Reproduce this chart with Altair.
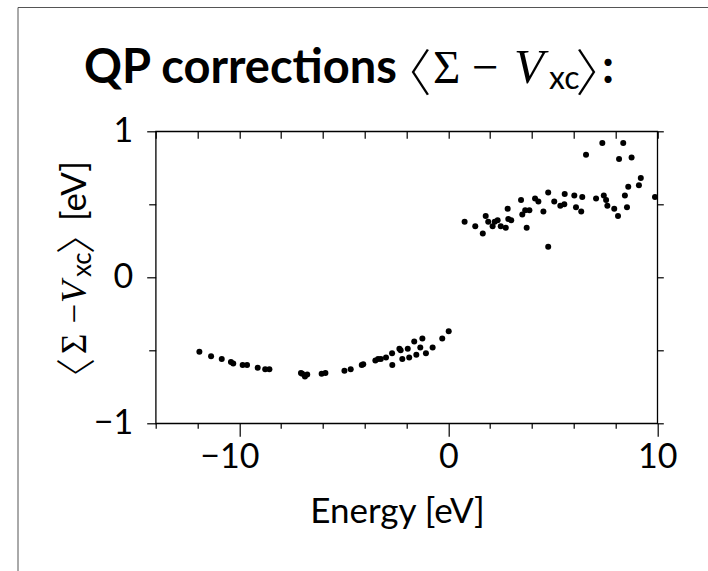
import altair as alt
import pandas as pd

# ---- data ----
energy = [
    -11.91, -11.35, -10.84, -10.40, -10.29, -9.84, -9.63, -9.12, -8.76, -8.56,
    -7.05, -6.99, -6.86, -6.75, -6.06, -5.88, -4.97, -4.67, -4.14, -4.07,
    -3.49, -3.36, -3.23, -2.98, -2.69, -2.68, -2.34, -2.28, -2.20, -1.94,
    -1.87, -1.63, -1.53, -1.34, -1.24, -1.07, -0.75, -0.29, 0.02,
    0.78, 1.29, 1.65, 1.79, 1.91, 2.12, 2.22, 2.36, 2.51, 2.75,
    2.84, 2.87, 3.01, 3.48, 3.54, 3.68, 3.75, 3.88, 4.15, 4.31,
    4.55, 4.78, 4.78, 5.07, 5.36, 5.55, 5.57, 6.03, 6.11, 6.36,
    6.41, 6.59, 7.07, 7.37, 7.44, 7.55, 7.61, 7.94, 8.12, 8.17,
    8.37, 8.45, 8.55, 8.61, 8.77, 9.12, 9.21, 9.89,
]
correction = [
    -0.51, -0.54, -0.56, -0.58, -0.59, -0.60, -0.60, -0.62, -0.63, -0.63,
    -0.655, -0.66, -0.68, -0.665, -0.66, -0.655, -0.64, -0.63, -0.60, -0.595,
    -0.57, -0.56, -0.56, -0.55, -0.52, -0.60, -0.49, -0.50, -0.56, -0.49,
    -0.55, -0.44, -0.53, -0.48, -0.42, -0.52, -0.48, -0.42, -0.37,
    0.38, 0.35, 0.30, 0.42, 0.38, 0.35, 0.38, 0.39, 0.35, 0.34,
    0.47, 0.40, 0.39, 0.53, 0.43, 0.46, 0.34, 0.46, 0.54, 0.52,
    0.45, 0.58, 0.21, 0.52, 0.49, 0.50, 0.57, 0.56, 0.48, 0.45,
    0.55, 0.84, 0.54, 0.92, 0.56, 0.53, 0.49, 0.47, 0.42, 0.81,
    0.92, 0.56, 0.48, 0.62, 0.82, 0.63, 0.68, 0.55,
]
x_ticks = [-14, -12, -10, -8, -6, -4, -2, 0, 2, 4, 6, 8, 10]
y_ticks = [-1, -0.5, 0, 0.5, 1]

df = pd.DataFrame({"energy": energy, "corr": correction})

# ---- layout ----
X0, Y0 = 155.7, 131.3
W, H = 501.6, 292.0
SANS = "Lato"
SERIF = "Liberation Serif"
BRK = "Noto Sans CJK JP"
LBL = 34

xscale = alt.Scale(domain=[-14, 10], nice=False, zero=False)
yscale = alt.Scale(domain=[-1, 1], nice=False, zero=False)

bottom_axis = alt.Axis(
    orient="bottom", values=x_ticks, domain=False, grid=False,
    tickColor="black", tickWidth=1.2,
    tickSize={"condition": {"test": "datum.value % 10 === 0", "value": 13}, "value": 5},
    labelExpr="datum.value % 10 === 0 ? format(datum.value, 'd') : ''",
    labelOffset={"condition": {"test": "datum.value < 0", "value": -10}, "value": 0},
    labelFont=SANS, labelFontSize=LBL, labelColor="black", labelPadding=4,
    labelFlush=False, labelOverlap=False,
    title="Energy [eV]", titleFont=SANS, titleFontSize=35, titleFontWeight="normal",
    titleColor="black", titleX=241.3, titleY=98.7, titleBaseline="alphabetic",
    titleAlign="center",
)
left_axis = alt.Axis(
    orient="left", values=y_ticks, domain=False, grid=False,
    tickColor="black", tickWidth=1.2,
    tickSize={"condition": {"test": "datum.value % 1 === 0", "value": 9}, "value": 7},
    labelExpr="datum.value % 1 === 0 ? format(datum.value, 'd') : ''",
    labelFont=SANS, labelFontSize=LBL, labelColor="black", labelPadding=14,
    labelFlush=False, labelOverlap=False, title=None,
)
top_axis = alt.Axis(
    orient="top", values=x_ticks, domain=False, grid=False, labels=False,
    tickColor="black", tickWidth=1.2, tickSize=7, offset=-7, title=None,
)
right_axis = alt.Axis(
    orient="right", values=y_ticks, domain=False, grid=False, labels=False,
    tickColor="black", tickWidth=1.2, tickSize=6, title=None,
)

points = alt.Chart(df).mark_circle(size=36, color="black", opacity=1).encode(
    x=alt.X("energy:Q", scale=xscale, axis=bottom_axis),
    y=alt.Y("corr:Q", scale=yscale, axis=left_axis),
)
frame_axes = alt.Chart(df).mark_circle(size=0, opacity=0).encode(
    x=alt.X("energy:Q", scale=xscale, axis=top_axis),
    y=alt.Y("corr:Q", scale=yscale, axis=right_axis),
)


def txt(s, x_abs, y_abs, size, font, weight="normal", style="normal", angle=0):
    return alt.Chart(alt.Data(values=[{"k": 1}])).mark_text(
        text=s, align="left", baseline="alphabetic", font=font, fontSize=size,
        fontWeight=weight, fontStyle=style, angle=angle, color="black",
    ).encode(x=alt.value(x_abs - X0), y=alt.value(y_abs - Y0))


# title pieces: QP corrections <Sigma - V_xc>:
TB = 83
title_parts = [
    txt("QP corrections", 84, TB, 47, SANS, weight="bold"),
    txt("\u3008", 381.5, 91, 50, BRK, weight=300),
    txt("\u03a3", 433, TB, 47, SERIF),
    txt("\u2212", 472, TB, 47, SERIF),
    txt("V", 514, TB, 49, SERIF, style="italic"),
    txt("xc", 549, TB + 6, 32, SANS),
    txt("\u3009", 575.5, 91, 50, BRK, weight=300),
    txt(":", 602, TB, 47, SANS, weight="bold"),
]

# y-axis title pieces, rotated
YB = 86
ytitle_parts = [
    txt("\u3008", 90.6, 398, 40, BRK, weight=300, angle=270),
    txt("\u03a3", YB, 354, 35, SERIF, angle=270),
    txt("\u2212", YB, 323.5, 35, SERIF, angle=270),
    txt("V", YB, 303, 36, SERIF, style="italic", angle=270),
    txt("xc", YB + 5, 277, 26, SANS, angle=270),
    txt("\u3009", 90.6, 254, 40, BRK, weight=300, angle=270),
    txt("[eV]", YB, 221, 35, SANS, angle=270),
]

# slide border (left and top)
border_left = alt.Chart(alt.Data(values=[{"k": 1}])).mark_rule(
    color="#555555", strokeWidth=1
).encode(x=alt.value(18 - X0), y=alt.value(7.5 - Y0), y2=alt.value(571 - Y0))
border_top = alt.Chart(alt.Data(values=[{"k": 1}])).mark_rule(
    color="#555555", strokeWidth=1
).encode(x=alt.value(18 - X0), x2=alt.value(708 - X0), y=alt.value(7.5 - Y0))

chart = alt.layer(
    frame_axes, points, border_left, border_top, *title_parts, *ytitle_parts
).resolve_axis(x="independent", y="independent").properties(
    width=W, height=H,
    autosize=alt.AutoSizeParams(type="none"),
    padding={"left": X0, "top": Y0, "right": 708 - X0 - W, "bottom": 571 - Y0 - H},
    background="white",
).configure_view(stroke="black", strokeWidth=1.3)

chart.save("out.html", embed_options={"renderer": "svg", "actions": False})
